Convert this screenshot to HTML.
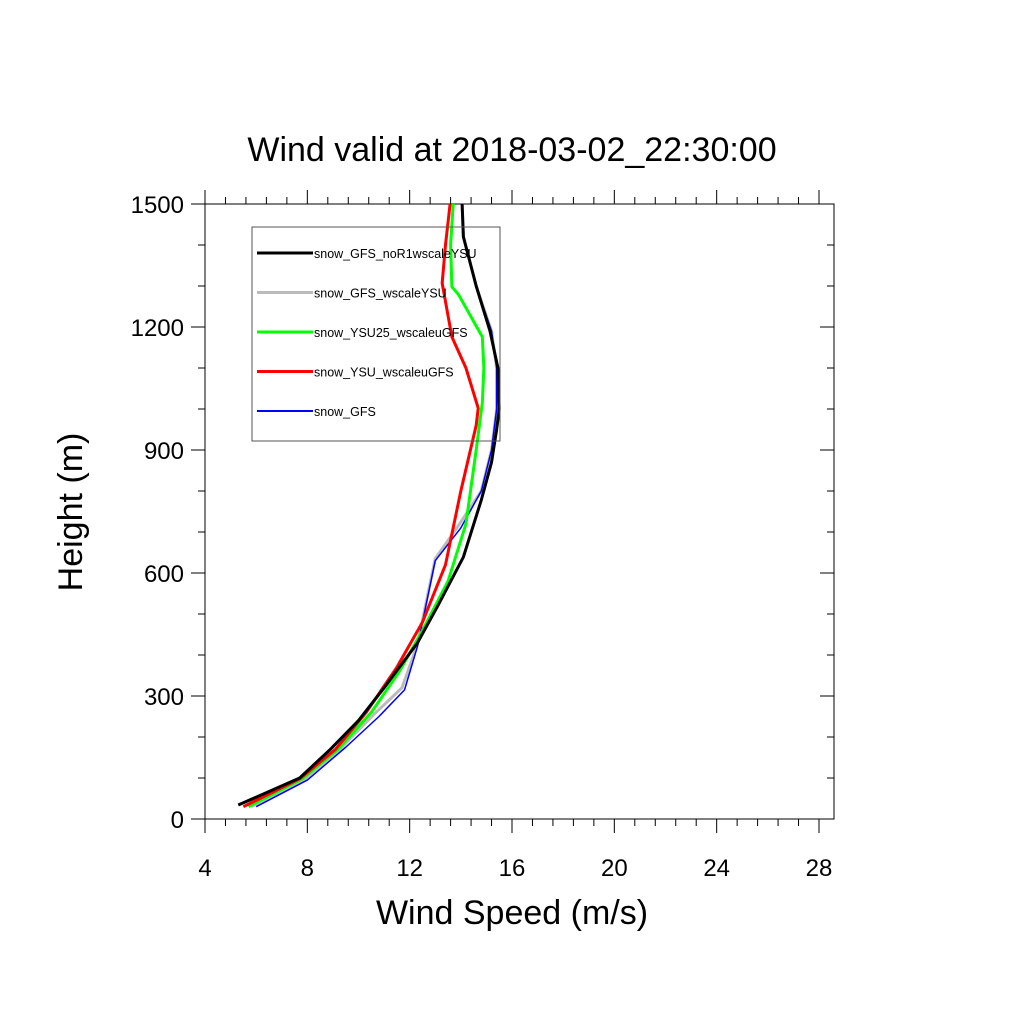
<!DOCTYPE html>
<html><head><meta charset="utf-8"><style>body{margin:0;background:#fff}svg text{font-family:"Liberation Sans",sans-serif}</style></head>
<body>
<svg id="c" width="1024" height="1024" xmlns="http://www.w3.org/2000/svg">
<rect width="1024" height="1024" fill="#fff"/>
<text x="512" y="161" font-size="34" text-anchor="middle">Wind valid at 2018-03-02_22:30:00</text>
<text x="512" y="924" font-size="34" text-anchor="middle">Wind Speed (m/s)</text>
<text transform="translate(82,512) rotate(-90)" font-size="34" text-anchor="middle">Height (m)</text>
<g id="axes"></g>
<g id="series"></g>
<g id="legend"></g>
</svg>
<script>
const xTicks=[4,8,12,16,20,24,28];
const yTicks=[0,300,600,900,1200,1500];
const seriesNames=["snow_GFS_noR1wscaleYSU","snow_GFS_wscaleYSU","snow_YSU25_wscaleuGFS","snow_YSU_wscaleuGFS","snow_GFS"];
const seriesColors=["#000","#bbb","#0f0","#f00","#00f"];
const blackSpeed=[5.3,7.7,8.9,10,11,12.3,13.1,14.1,14.8,15.2,15.4,15.5,15.45,15.14,14.6,14.1,14.05];
const blackHeight=[34,100,170,240,320,429,520,639,778,870,950,1000,1100,1190,1300,1420,1500];
const blueSpeed=[6.0,8.0,9.5,10.8,11.8,12.3,13.0,14.0,14.8,15.2,15.4,15.4,15.2,14.6,14.1,14.05];
const blueHeight=[30,95,175,250,315,420,630,710,800,900,1000,1100,1190,1300,1420,1500];
const graySpeed=[5.8,7.9,9.3,10.6,11.7,12.3,13.0,13.9,14.8,15.2,15.4,15.4,15.2,14.6,14.1,14.05];
const grayHeight=[30,97,172,255,320,425,635,715,800,900,1000,1100,1190,1300,1420,1500];
const greenSpeed=[5.7,7.8,9.2,10.5,11.6,12.5,13.5,14.2,14.6,14.84,14.9,14.84,13.9,13.65,13.6,13.7];
const greenHeight=[30,98,170,260,360,460,580,720,900,1015,1100,1176,1280,1298,1400,1500];
const redSpeed=[5.5,7.7,9.1,10.3,11.5,12.5,13.4,14.0,14.6,14.68,14.2,13.65,13.27,13.4,13.58];
const redHeight=[30,98,170,260,370,480,620,800,960,1002,1100,1176,1307,1400,1500];
const S="http://www.w3.org/2000/svg";
const X=v=>205+(v-4)*(819-205)/24, Y=h=>819-h*(819-204)/1500;
function mk(t,a,p){const e=document.createElementNS(S,t);for(const k in a)e.setAttribute(k,a[k]);p.appendChild(e);return e;}
const ax=document.getElementById('axes');
const fr=mk('rect',{x:205,y:204,width:629,height:615,fill:'none',stroke:'#000','stroke-width':1},ax);


for(let v=4;v<=28.5;v+=0.8){const maj=xTicks.includes(Math.round(v*10)/10);const x=X(v);
mk('line',{x1:x,x2:x,y1:819,y2:819+(maj?14:7),stroke:'#000'},ax);mk('line',{x1:x,x2:x,y1:204,y2:204-(maj?14:7),stroke:'#000'},ax);}
xTicks.forEach(v=>{const t=mk('text',{x:X(v),y:876,'font-size':24,'text-anchor':'middle'},ax);t.textContent=v;

});
for(let h=0;h<=1500;h+=100){const maj=h%300==0;const y=Y(h);
mk('line',{x1:205,x2:205-(maj?14:7),y1:y,y2:y,stroke:'#000'},ax);mk('line',{x1:834,x2:834-(maj?14:7),y1:y,y2:y,stroke:'#000'},ax);}
yTicks.forEach(h=>{const t=mk('text',{x:184,y:Y(h)+9,'font-size':24,'text-anchor':'end'},ax);t.textContent=h;

});
const sg=document.getElementById('series');
const data=[[graySpeed,grayHeight,'#bbb',3],[blueSpeed,blueHeight,'#00f',1.5],[greenSpeed,greenHeight,'#0f0',3],[redSpeed,redHeight,'#f00',3],[blackSpeed,blackHeight,'#000',3]];
const nm=['line-gray','line-blue','line-green','line-red','line-black'];
data.forEach((d,i)=>{const p=mk('polyline',{points:d[0].map((v,j)=>X(v)+','+Y(d[1][j])).join(' '),fill:'none',stroke:d[2],'stroke-width':d[3],'stroke-linejoin':'round'},sg);

});
const lg=document.getElementById('legend');
const lb=mk('rect',{x:252,y:227,width:248,height:214,fill:'none',stroke:'#555','stroke-width':1},lg);


seriesNames.forEach((n,i)=>{const y=253+i*39.5;
mk('line',{x1:257,x2:313,y1:y,y2:y,stroke:seriesColors[i],'stroke-width':i==4?2:3},lg);
const t=mk('text',{x:314,y:y+5,'font-size':12.5},lg);t.textContent=n;

});
</script>
</body></html>
